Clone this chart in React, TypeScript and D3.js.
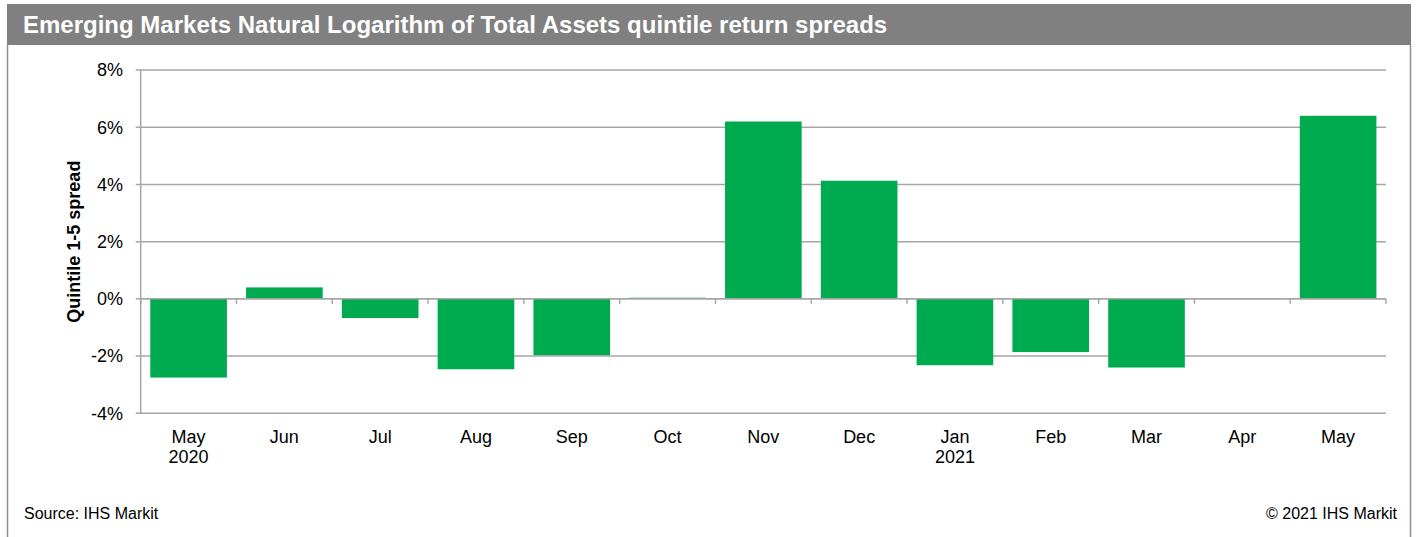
import React from "react";
import * as d3 from "d3";

const months = ["May", "Jun", "Jul", "Aug", "Sep", "Oct", "Nov", "Dec", "Jan", "Feb", "Mar", "Apr", "May"];
const years = ["2020", "", "", "", "", "", "", "", "2021", "", "", "", ""];
const spreads = [-2.75, 0.4, -0.67, -2.46, -1.97, 0.04, 6.2, 4.13, -2.32, -1.86, -2.4, -0.01, 6.4];
const yTicks = [-4, -2, 0, 2, 4, 6, 8];

const W = 1418;
const H = 537;
const left = 140.7;
const right = 1386;
const top = 70;
const bottom = 413.3;
const grid = "#a6a6a6";
const green = "#00aa4f";
const font = "Arial, 'Liberation Sans', sans-serif";

export default function App() {
  const x = d3
    .scaleBand<number>()
    .domain(d3.range(months.length))
    .range([left, right])
    .paddingInner(0.2)
    .paddingOuter(0.1);
  const step = (right - left) / months.length;
  const y = d3.scaleLinear().domain([-4, 8]).range([bottom, top]);
  const y0 = y(0);

  return (
    <svg width={W} height={H} style={{ position: "absolute", left: 0, top: 0, background: "#fff" }}>
      <rect x={7} y={4} width={1404} height={41} fill="#7f807f" />
      <text x={23} y={33} fill="#fff" fontFamily={font} fontWeight="bold" fontSize={24}>
        Emerging Markets Natural Logarithm of Total Assets quintile return spreads
      </text>
      <line x1={7.5} x2={7.5} y1={45} y2={H} stroke="#909090" strokeWidth={1.5} />
      <line x1={1410.5} x2={1410.5} y1={45} y2={H} stroke="#909090" strokeWidth={1.5} />

      {yTicks.map((t) => (
        <g key={t}>
          <line x1={left - 5} x2={right} y1={y(t)} y2={y(t)} stroke={grid} strokeWidth={1.5} />
          <text x={123} y={y(t)} dy="0.35em" textAnchor="end" fontFamily={font} fontSize={18} fill="#000">
            {t}%
          </text>
        </g>
      ))}
      <line x1={left} x2={left} y1={top} y2={bottom} stroke={grid} strokeWidth={1.5} />

      {spreads.map((v, i) => (
        <rect
          key={i}
          x={x(i)}
          width={x.bandwidth()}
          y={Math.min(y(v), y0)}
          height={Math.abs(y(v) - y0)}
          fill={green}
        />
      ))}

      <line x1={left} x2={right} y1={y0} y2={y0} stroke={grid} strokeWidth={1.5} />
      {d3.range(months.length + 1).map((i) => (
        <line key={i} x1={left + i * step} x2={left + i * step} y1={y0} y2={y0 + 5} stroke={grid} strokeWidth={1.5} />
      ))}

      {months.map((m, i) => (
        <text key={i} x={(x(i) as number) + x.bandwidth() / 2} y={443} textAnchor="middle" fontFamily={font} fontSize={18} fill="#000">
          <tspan x={(x(i) as number) + x.bandwidth() / 2}>{m}</tspan>
          {years[i] && (
            <tspan x={(x(i) as number) + x.bandwidth() / 2} dy={20}>
              {years[i]}
            </tspan>
          )}
        </text>
      ))}

      <text
        transform={`translate(80, ${(top + bottom) / 2}) rotate(-90)`}
        textAnchor="middle"
        fontFamily={font}
        fontWeight="bold"
        fontSize={18}
        fill="#000"
      >
        Quintile 1-5 spread
      </text>

      <text x={24} y={519} fontFamily={font} fontSize={16} fill="#000">
        Source: IHS Markit
      </text>
      <text x={1397} y={519} textAnchor="end" fontFamily={font} fontSize={16} fill="#000">
        © 2021 IHS Markit
      </text>
    </svg>
  );
}
